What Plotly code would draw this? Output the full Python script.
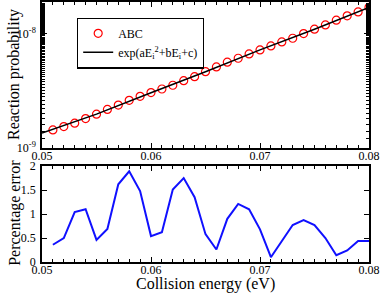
import plotly.graph_objects as go

energy = [0.051, 0.052, 0.053, 0.054, 0.055, 0.056, 0.057, 0.058, 0.059, 0.060,
          0.061, 0.062, 0.063, 0.064, 0.065, 0.066, 0.067, 0.068, 0.069, 0.070,
          0.071, 0.072, 0.073, 0.074, 0.075, 0.076, 0.077, 0.078, 0.079, 0.080]
abc_prob = [1.44e-9, 1.54e-9, 1.65e-9, 1.81e-9, 1.98e-9, 2.18e-9, 2.38e-9, 2.62e-9, 2.84e-9, 3.06e-9,
            3.29e-9, 3.55e-9, 3.89e-9, 4.22e-9, 4.67e-9, 5.14e-9, 5.65e-9, 6.12e-9, 6.68e-9, 7.24e-9,
            7.85e-9, 8.51e-9, 9.17e-9, 1.007e-8, 1.10e-8, 1.20e-8, 1.32e-8, 1.44e-8, 1.56e-8, 1.71e-8]
fit_energy = [0.050, 0.055, 0.060, 0.065, 0.070, 0.075, 0.080]
fit_prob = [1.35e-9, 1.98e-9, 3.05e-9, 4.66e-9, 7.25e-9, 1.10e-8, 1.71e-8]
pct_error = [0.36, 0.50, 1.04, 1.10, 0.46, 0.69, 1.62, 1.89, 1.48, 0.54,
             0.62, 1.51, 1.75, 1.35, 0.58, 0.26, 0.90, 1.21, 1.10, 0.68,
             0.10, 0.43, 0.77, 0.875, 0.77, 0.50, 0.14, 0.24, 0.44, 0.44]
x_ticks = [0.05, 0.06, 0.07, 0.08]
x_ticklabels = ["0.05", "0.06", "0.07", "0.08"]
y_top_ticks = [1e-9, 1e-8]
y_top_ticklabels = ["10<sup>-9</sup>", "10<sup>-8</sup>"]
y_bot_ticks = [0, 0.5, 1, 1.5, 2]
y_bot_ticklabels = ["0", "0.5", "1", "1.5", "2"]

FONT = "Liberation Serif"

fig = go.Figure()
fig.add_trace(go.Scatter(x=energy, y=abc_prob, mode="markers", name="ABC",
                         marker=dict(symbol="circle-open", size=8, color="red", line=dict(width=1.2)),
                         xaxis="x", yaxis="y"))
fig.add_trace(go.Scatter(x=fit_energy, y=fit_prob, mode="lines",
                         name="exp(aE<sub>i</sub><sup>2</sup>+bE<sub>i</sub>+c)",
                         line=dict(color="black", width=1.5), xaxis="x", yaxis="y"))
fig.add_trace(go.Scatter(x=energy, y=pct_error, mode="lines", showlegend=False,
                         line=dict(color="#1010ff", width=2), xaxis="x2", yaxis="y2"))

axis_common = dict(showline=True, linecolor="black", linewidth=1.5, mirror="ticks",
                   ticks="inside", ticklen=5, tickwidth=1.2, tickcolor="black",
                   showgrid=False, zeroline=False, automargin=False,
                   tickfont=dict(family=FONT, size=12, color="black"))
minor_x = dict(dtick=0.001, ticks="inside", ticklen=3, tickcolor="black", tickwidth=1)

fig.update_layout(
    template="none",
    width=382, height=293,
    margin=dict(l=42, r=13, t=2, b=31),
    plot_bgcolor="white", paper_bgcolor="white",
    font=dict(family=FONT, color="black"),
    showlegend=True,
    legend=dict(x=0.107, y=0.94, xanchor="left", yanchor="top",
                bordercolor="black", borderwidth=1.2, bgcolor="white",
                font=dict(family=FONT, size=12, color="black"),
                tracegroupgap=0, itemwidth=30),
    xaxis=dict(domain=[0, 1], range=[0.05, 0.08], anchor="y",
               tickvals=x_ticks, ticktext=x_ticklabels, ticklabelstandoff=-4,
               minor=minor_x, **axis_common),
    yaxis=dict(domain=[0.4385, 1], type="log", range=[-9, -7.72], anchor="x",
               tickvals=y_top_ticks, ticktext=y_top_ticklabels, ticklabelstandoff=2,
               minor=dict(ticks="inside", ticklen=3, tickcolor="black", tickwidth=1),
               **axis_common),
    xaxis2=dict(domain=[0, 1], range=[0.05, 0.08], anchor="y2",
                tickvals=x_ticks, ticktext=x_ticklabels, ticklabelstandoff=-4,
                minor=minor_x, **axis_common),
    yaxis2=dict(domain=[0, 0.369], range=[0, 2], anchor="x2",
                tickvals=y_bot_ticks, ticktext=y_bot_ticklabels, ticklabelstandoff=2,
                **axis_common),
    annotations=[
        dict(text="Reaction probability", xref="paper", yref="paper", x=-0.085, y=0.72,
             xanchor="center", yanchor="middle", textangle=-90, showarrow=False,
             font=dict(family=FONT, size=16, color="black")),
        dict(text="Percentage error", xref="paper", yref="paper", x=-0.085, y=0.19,
             xanchor="center", yanchor="middle", textangle=-90, showarrow=False,
             font=dict(family=FONT, size=16, color="black")),
        dict(text="Collision energy (eV)", xref="paper", yref="paper", x=0.5, y=-0.085,
             xanchor="center", yanchor="middle", showarrow=False,
             font=dict(family=FONT, size=16, color="black")),
    ],
)

fig.write_html("out.html", config={"displayModeBar": False},
               post_script="document.body.style.margin='0';document.body.style.overflow='hidden';")
